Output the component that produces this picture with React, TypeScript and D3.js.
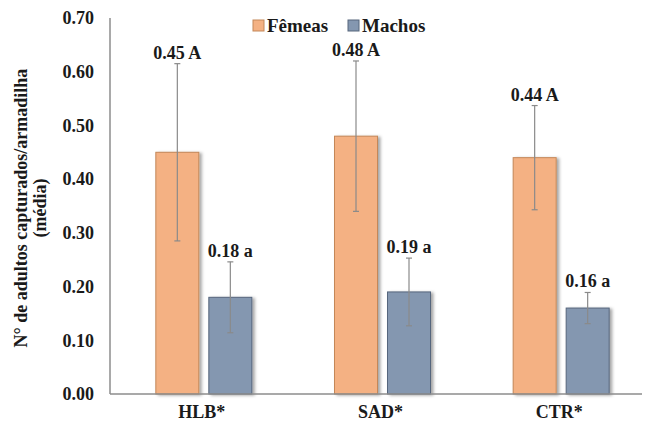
import React from "react";
import * as d3 from "d3";

// Mean adults captured per trap, by treatment and sex
const categories = ["HLB*", "SAD*", "CTR*"];
const seriesNames = ["Fêmeas", "Machos"];
const femeasMean = [0.45, 0.48, 0.44];
const femeasErr = [0.165, 0.14, 0.097];
const femeasLetter = ["A", "A", "A"];
const machosMean = [0.18, 0.19, 0.16];
const machosErr = [0.066, 0.063, 0.029];
const machosLetter = ["a", "a", "a"];
const yTicks = [0, 0.1, 0.2, 0.3, 0.4, 0.5, 0.6, 0.7];

const W = 670;
const H = 428;
const FONT = "Liberation Serif, Times New Roman, Times, DejaVu Serif, serif";

const fills = ["#F4B183", "#8497B0"];
const strokes = ["#C48758", "#56667D"];

const txt: React.CSSProperties = { fontFamily: FONT, fontWeight: 700 };

export default function App() {
  const y = d3.scaleLinear().domain([0, 0.7]).range([394, 18]);
  const xCat = d3.scaleBand<string>().domain(categories).range([114.5, 650.5]).padding(0);
  const groupW = 96;
  const xSeries = d3.scaleBand<string>().domain(seriesNames).range([0, groupW]).paddingInner(10 / 53).paddingOuter(0);

  const series = [
    { name: seriesNames[0], mean: femeasMean, err: femeasErr, letter: femeasLetter },
    { name: seriesNames[1], mean: machosMean, err: machosErr, letter: machosLetter },
  ];

  const groupStart = (c: string) => (xCat(c) ?? 0) + xCat.bandwidth() / 2 - groupW / 2;

  return (
    <svg
      width={W}
      height={H}
      viewBox={`0 0 ${W} ${H}`}
      style={{ position: "absolute", left: 0, top: 0, background: "#fff", fontFamily: FONT }}
    >
      <defs>
        <filter id="barShadow" x="-20%" y="-5%" width="150%" height="115%">
          <feDropShadow dx="2.5" dy="1" stdDeviation="1.4" floodColor="#000" floodOpacity="0.35" />
        </filter>
      </defs>

      {/* Y tick labels */}
      {yTicks.map((t) => (
        <text key={t} x={94} y={y(t)} dy="0.35em" textAnchor="end" fontSize={18} fill="#1a1a1a" style={txt}>
          {d3.format(".2f")(t)}
        </text>
      ))}

      {/* Y axis title */}
      <g transform="translate(27,208) rotate(-90)">
        <text textAnchor="middle" fontSize={18} fill="#1a1a1a" style={txt}>
          N° de adultos capturados/armadilha
        </text>
      </g>
      <g transform="translate(46,208) rotate(-90)">
        <text textAnchor="middle" fontSize={18} fill="#1a1a1a" style={txt}>
          (média)
        </text>
      </g>

      {/* Bars */}
      {series.map((s, si) =>
        categories.map((c, ci) => {
          const x0 = groupStart(c) + (xSeries(s.name) ?? 0);
          const bw = xSeries.bandwidth();
          return (
            <rect
              key={`${si}-${ci}`}
              x={x0}
              y={y(s.mean[ci])}
              width={bw}
              height={y(0) - y(s.mean[ci])}
              fill={fills[si]}
              stroke={strokes[si]}
              strokeWidth={1}
              filter="url(#barShadow)"
            />
          );
        })
      )}

      {/* Axis lines */}
      <line x1={110} x2={110} y1={y(0.7)} y2={y(0)} stroke="#8c8c8c" strokeWidth={1.5} />
      <line x1={110} x2={642} y1={y(0)} y2={y(0)} stroke="#8c8c8c" strokeWidth={1.5} />

      {/* Error bars and value labels */}
      {series.map((s, si) =>
        categories.map((c, ci) => {
          const cx = groupStart(c) + (xSeries(s.name) ?? 0) + xSeries.bandwidth() / 2;
          const top = y(s.mean[ci] + s.err[ci]);
          const bot = y(s.mean[ci] - s.err[ci]);
          return (
            <g key={`e-${si}-${ci}`}>
              <line x1={cx} x2={cx} y1={top} y2={bot} stroke="#8a8a8a" strokeWidth={1.2} />
              <line x1={cx - 3} x2={cx + 3} y1={top} y2={top} stroke="#8a8a8a" strokeWidth={1.2} />
              <line x1={cx - 3} x2={cx + 3} y1={bot} y2={bot} stroke="#8a8a8a" strokeWidth={1.2} />
              <text x={cx} y={top - 5} textAnchor="middle" fontSize={18} fill="#1a1a1a" style={txt}>
                {`${d3.format(".2f")(s.mean[ci])} ${s.letter[ci]}`}
              </text>
            </g>
          );
        })
      )}

      {/* Category labels */}
      {categories.map((c) => (
        <text
          key={c}
          x={(xCat(c) ?? 0) + xCat.bandwidth() / 2 - 2}
          y={418}
          textAnchor="middle"
          fontSize={18}
          fill="#1a1a1a"
          style={txt}
        >
          {c}
        </text>
      ))}

      {/* Legend */}
      {seriesNames.map((n, i) => {
        const lx = [253, 348][i];
        return (
          <g key={n}>
            <rect x={lx} y={20} width={11} height={11} fill={fills[i]} stroke={strokes[i]} strokeWidth={1} />
            <text x={lx + 14} y={31.5} fontSize={19} fill="#1a1a1a" style={txt}>
              {n}
            </text>
          </g>
        );
      })}
    </svg>
  );
}
